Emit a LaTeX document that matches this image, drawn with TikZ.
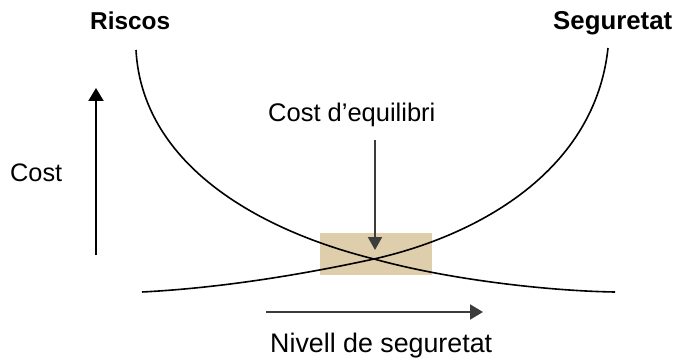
\documentclass[tikz,border=0pt]{standalone}
\usepackage{fontspec}
\setmainfont{Liberation Sans}
\usetikzlibrary{arrows.meta}
\definecolor{boxtan}{RGB}{223,206,171}
\definecolor{arrowgray}{RGB}{60,60,60}
\tikzset{
  lbl/.style={inner sep=0pt, anchor=base west, font=\fontsize{25.5}{30}\selectfont},
  curve/.style={line width=1.6pt, black},
  axisarrow/.style={line width=2pt, -{Triangle[width=15pt,length=13pt]}},
}
\begin{document}
\begin{tikzpicture}[x=1pt,y=-1pt]
\useasboundingbox (0,0) rectangle (674,358);
% equilibrium box
\fill[boxtan] (320,233) rectangle (432,275);
% curves
\draw[curve] (136,50) .. controls (142,160) and (250,228) .. (374,259)
  .. controls (450,280) and (550,291) .. (615,292);
\draw[curve] (142,292) .. controls (220,288) and (300,275) .. (374,259)
  .. controls (480,235) and (595,170) .. (608,48);
% labels
\node[lbl, font=\fontsize{24.4}{29}\selectfont\bfseries] (riscos) at (90,29.3) {Riscos};
\node[lbl, font=\fontsize{25.8}{30}\selectfont\bfseries] (seg) at (553,29.3) {Seguretat};
\node[lbl] (eq) at (268,121.7) {Cost d’equilibri};
\node[lbl, font=\fontsize{25.3}{30}\selectfont] (cost) at (10,181.7) {Cost};
\node[lbl, font=\fontsize{26.8}{31}\selectfont] (nivell) at (270,352.5) {Nivell de seguretat};
% arrows
\coordinate (vA) at (96,255);
\coordinate (vB) at (96,88);
\coordinate (hA) at (266,312);
\coordinate (hB) at (483,312);
\coordinate (dA) at (375,140);
\coordinate (dB) at (375,250);
\draw[axisarrow, black] (vA) -- (vB);
\draw[axisarrow, arrowgray] (hA) -- (hB);
\draw[line width=2pt, arrowgray, -{Triangle[width=14pt,length=13pt]}] (dA) -- (dB);
\end{tikzpicture}
\end{document}
